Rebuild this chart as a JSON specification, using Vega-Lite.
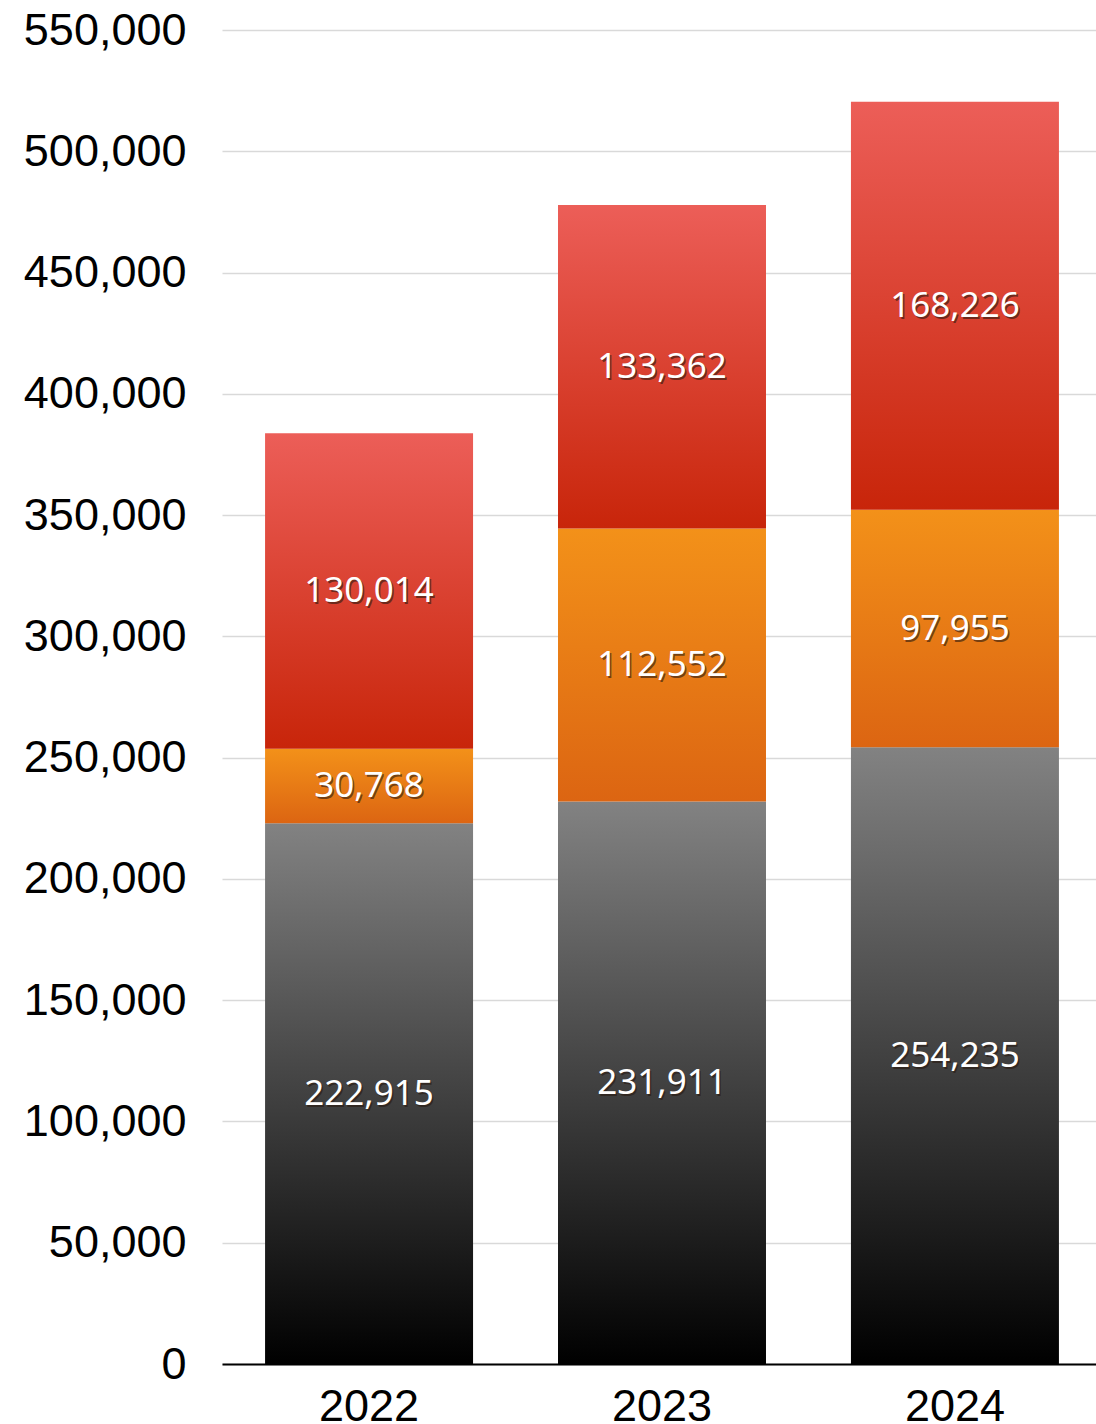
{
  "$schema": "https://vega.github.io/schema/vega-lite/v6.json",
  "width": 880,
  "height": 1334,
  "autosize": {"type": "none"},
  "padding": {"left": 222, "top": 30, "right": 0, "bottom": 60},
  "background": "white",
  "config": {"view": {"stroke": null}},
  "data": {
    "values": [
      {"year": "2022", "series": "s1", "order": 1, "value": 222915},
      {"year": "2022", "series": "s2", "order": 2, "value": 30768},
      {"year": "2022", "series": "s3", "order": 3, "value": 130014},
      {"year": "2023", "series": "s1", "order": 1, "value": 231911},
      {"year": "2023", "series": "s2", "order": 2, "value": 112552},
      {"year": "2023", "series": "s3", "order": 3, "value": 133362},
      {"year": "2024", "series": "s1", "order": 1, "value": 254235},
      {"year": "2024", "series": "s2", "order": 2, "value": 97955},
      {"year": "2024", "series": "s3", "order": 3, "value": 168226}
    ]
  },
  "transform": [
    {"stack": "value", "groupby": ["year"], "sort": [{"field": "order", "order": "ascending"}], "as": ["v0", "v1"]}
  ],
  "encoding": {
    "x": {
      "field": "year",
      "type": "ordinal",
      "scale": {"paddingInner": 0.29, "paddingOuter": 0.147},
      "axis": {
        "title": null,
        "labelAngle": 0,
        "labelFont": "Liberation Sans",
        "labelFontSize": 45,
        "labelColor": "#000000",
        "labelPadding": 20,
        "ticks": false,
        "domainColor": "#000000",
        "domainWidth": 2,
        "grid": false
      }
    }
  },
  "layer": [
    {
      "transform": [{"filter": {"field": "order", "equal": 1}}],
      "mark": {
        "type": "bar",
        "color": {"gradient": "linear", "x1": 0, "y1": 0, "x2": 0, "y2": 1,
          "stops": [{"offset": 0, "color": "#828282"}, {"offset": 1, "color": "#000000"}]}
      },
      "encoding": {
        "y": {
          "field": "v1",
          "type": "quantitative",
          "scale": {"domain": [0, 550000], "nice": false},
          "axis": {
            "title": null,
            "values": [0, 50000, 100000, 150000, 200000, 250000, 300000, 350000, 400000, 450000, 500000, 550000],
            "format": ",.0f",
            "labelFont": "Liberation Sans",
            "labelFontSize": 45,
            "labelColor": "#000000",
            "labelPadding": 36,
            "ticks": false,
            "domain": false,
            "grid": true,
            "gridColor": "#d9d9d9",
            "gridWidth": 1.5
          }
        },
        "y2": {"field": "v0"}
      }
    },
    {
      "transform": [{"filter": {"field": "order", "equal": 2}}],
      "mark": {
        "type": "bar",
        "color": {"gradient": "linear", "x1": 0, "y1": 0, "x2": 0, "y2": 1,
          "stops": [{"offset": 0, "color": "#f39119"}, {"offset": 1, "color": "#dc6512"}]}
      },
      "encoding": {
        "y": {"field": "v1", "type": "quantitative"},
        "y2": {"field": "v0"}
      }
    },
    {
      "transform": [{"filter": {"field": "order", "equal": 3}}],
      "mark": {
        "type": "bar",
        "color": {"gradient": "linear", "x1": 0, "y1": 0, "x2": 0, "y2": 1,
          "stops": [{"offset": 0, "color": "#ec5e58"}, {"offset": 1, "color": "#c8250a"}]}
      },
      "encoding": {
        "y": {"field": "v1", "type": "quantitative"},
        "y2": {"field": "v0"}
      }
    },
    {
      "transform": [
        {"fold": ["v0", "v1"], "as": ["k", "pos"]},
        {"aggregate": [{"op": "mean", "field": "pos", "as": "mid"}], "groupby": ["year", "series", "value"]}
      ],
      "mark": {"type": "text", "font": "Noto Sans", "fontSize": 35, "color": "#2a1a10", "opacity": 0.6, "dx": 1.5, "dy": 2},
      "encoding": {
        "y": {"field": "mid", "type": "quantitative"},
        "text": {"field": "value", "type": "quantitative", "format": ","}
      }
    },
    {
      "transform": [
        {"fold": ["v0", "v1"], "as": ["k", "pos"]},
        {"aggregate": [{"op": "mean", "field": "pos", "as": "mid"}], "groupby": ["year", "series", "value"]}
      ],
      "mark": {"type": "text", "font": "Noto Sans", "fontSize": 35, "color": "#ffffff"},
      "encoding": {
        "y": {"field": "mid", "type": "quantitative"},
        "text": {"field": "value", "type": "quantitative", "format": ","}
      }
    }
  ]
}
